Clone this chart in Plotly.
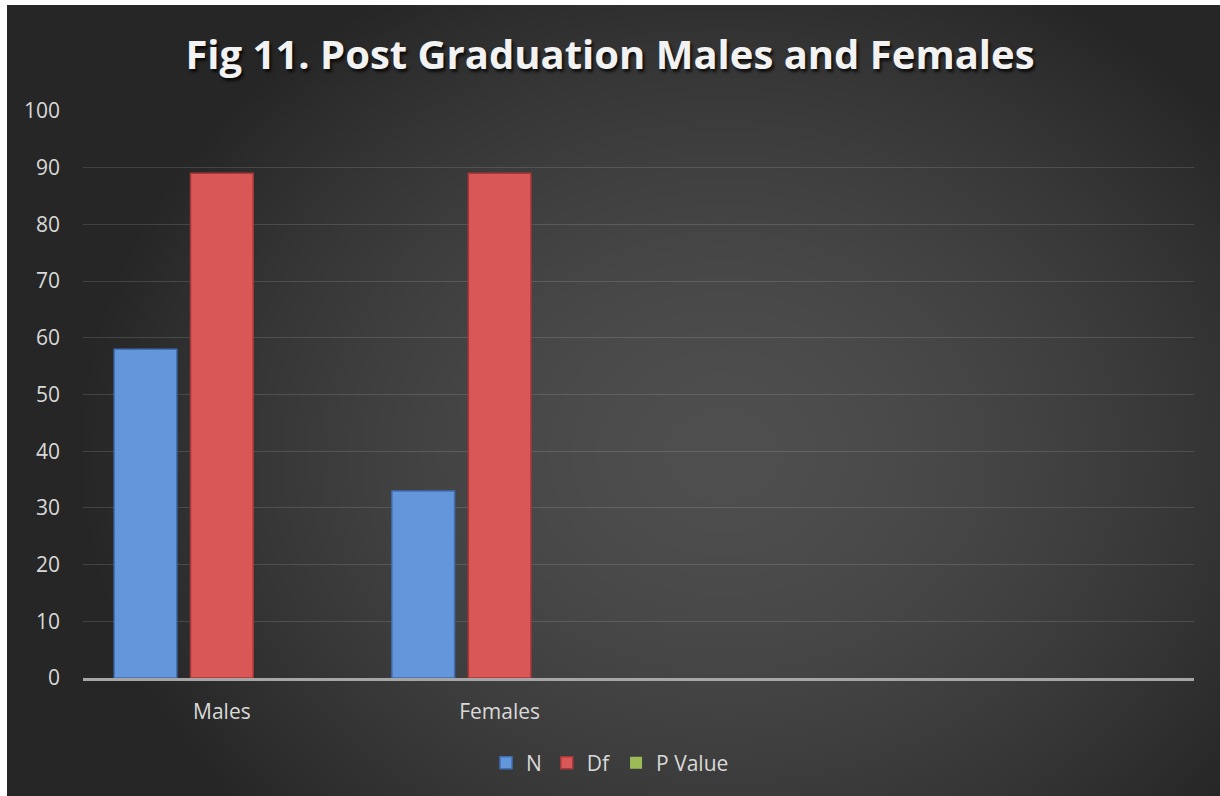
import base64
import struct
import zlib

import numpy as np
import plotly.graph_objects as go

# ---- data -------------------------------------------------------------
categories = ["Males", "Females", "", ""]
n_values = [58, 33, None, None]
df_values = [89, 89, None, None]
p_values = [0, 0, None, None]

y_ticks = [0, 10, 20, 30, 40, 50, 60, 70, 80, 90, 100]

W, H = 1220, 796
L, R, T, B = 83, 26, 111, 118
PANEL_X0, PANEL_Y0 = 7, 5


def png_uri(rgb):
    """Encode an HxWx3 uint8 array as a PNG data URI."""
    h, w, _ = rgb.shape
    raw = b"".join(b"\x00" + rgb[i].tobytes() for i in range(h))

    def chunk(tag, data):
        c = struct.pack(">I", len(data)) + tag + data
        return c + struct.pack(">I", zlib.crc32(tag + data) & 0xFFFFFFFF)

    png = b"\x89PNG\r\n\x1a\n"
    png += chunk(b"IHDR", struct.pack(">IIBBBBB", w, h, 8, 2, 0, 0, 0))
    png += chunk(b"IDAT", zlib.compress(raw, 9))
    png += chunk(b"IEND", b"")
    return "data:image/png;base64," + base64.b64encode(png).decode()


# radial charcoal background for the chart panel
pw, ph = (W - PANEL_X0) // 4, (H - PANEL_Y0) // 4
yy, xx = np.mgrid[0:ph, 0:pw].astype(float)
xx = xx * 4 + PANEL_X0
yy = yy * 4 + PANEL_Y0
d = np.sqrt(((xx - 720) / 650) ** 2 + ((yy - 450) / 540) ** 2)
v = 38 + 41 * (1 - np.clip(d, 0, 1) ** 1.6)
bg = np.repeat(v[:, :, None], 3, axis=2).clip(0, 255).astype(np.uint8)

x_pos = list(range(len(categories)))
font_family = "Open Sans, Lato, sans-serif"

fig = go.Figure()
series = [
    ("N", n_values, "#6496dc", "#3f6fb5", 1.5),
    ("Df", df_values, "#da5757", "#a83838", 1.5),
    ("P Value", p_values, "#9bbb59", "#76923c", 0),
]
for name, vals, fill, edge, lw in series:
    fig.add_trace(go.Bar(
        name=name, x=x_pos, y=vals,
        marker=dict(color=fill, line=dict(color=edge, width=lw)),
    ))

plot_w = W - L - R
plot_h = H - T - B
fig.add_layout_image(
    source=png_uri(bg), xref="paper", yref="paper",
    x=(PANEL_X0 - L) / plot_w, y=(H - B - PANEL_Y0) / plot_h,
    sizex=(W - PANEL_X0) / plot_w, sizey=(H - PANEL_Y0) / plot_h,
    xanchor="left", yanchor="top", sizing="stretch", layer="below",
)

fig.update_layout(
    width=W, height=H,
    margin=dict(l=L, r=R, t=T, b=B),
    paper_bgcolor="white",
    plot_bgcolor="rgba(0,0,0,0)",
    barmode="group", bargap=0.175, bargroupgap=0.18,
    font=dict(family=font_family, color="#d9d9d9", size=21),
    title=dict(
        text="<b>Fig 11. Post Graduation Males and Females</b>",
        x=0.5, xanchor="center", xref="container",
        y=1 - 55 / H, yanchor="middle", yref="container",
        font=dict(family=font_family, size=40, color="#f2f2f2",
                  shadow="2px 3px 3px rgba(0,0,0,0.75)"),
    ),
    xaxis=dict(
        range=[-0.5, len(categories) - 0.5],
        tickmode="array", tickvals=x_pos, ticktext=categories,
        showgrid=False, zeroline=False,
        showline=True, linecolor="#a6a6a6", linewidth=2.5,
        ticks="", ticklabelstandoff=13,
        tickfont=dict(size=21, color="#d9d9d9"),
    ),
    yaxis=dict(
        range=[0, 100], tickvals=y_ticks,
        showgrid=True, gridcolor="rgba(255,255,255,0.13)", gridwidth=1,
        zeroline=False, showline=False, ticks="",
        ticklabelstandoff=22,
        tickfont=dict(size=21, color="#d9d9d9"),
    ),
    legend=dict(
        orientation="h", x=0.5, xanchor="center", xref="container",
        y=33 / H, yanchor="middle", yref="container",
        font=dict(size=21, color="#d9d9d9"),
        bgcolor="rgba(0,0,0,0)", itemwidth=30,
    ),
    showlegend=True,
)

fig.write_html("out.html")
